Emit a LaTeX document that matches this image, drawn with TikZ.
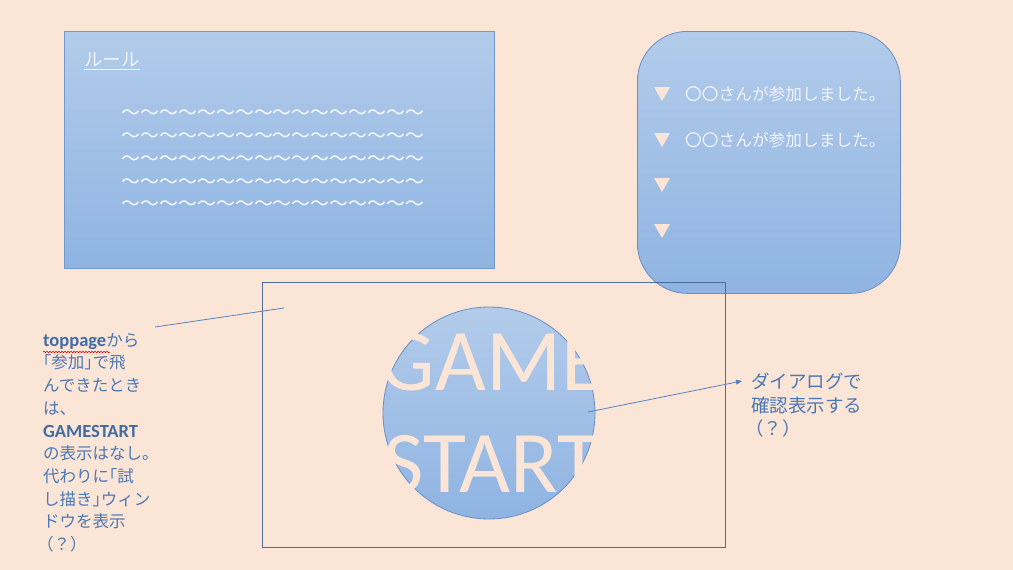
\documentclass[tikz,border=0pt]{standalone}
\usepackage{fontspec}
\newfontfamily\jpfont{Noto Sans CJK JP}
\newfontfamily\jphalt[RawFeature=+halt]{Noto Sans CJK JP}
\newfontfamily\latfont{Carlito}
\usetikzlibrary{decorations.pathmorphing,arrows.meta}
\definecolor{bg}{HTML}{FBE5D6}
\definecolor{gtop}{HTML}{B2CBEA}
\definecolor{gbot}{HTML}{8FB4E2}
\definecolor{edge}{HTML}{7099D0}
\definecolor{edgeb}{HTML}{6A8FC6}
\definecolor{conn}{HTML}{5584C2}
\definecolor{txt}{HTML}{4A78B5}
\definecolor{boldtxt}{HTML}{3F6DA8}
\definecolor{framec}{HTML}{4A6E9E}
\definecolor{paletxt}{HTML}{F3F3F5}
\tikzset{
  panel/.style={draw=edge, line width=0.8pt, top color=gtop, bottom color=gbot, inner sep=0pt, anchor=north west},
  jptext/.style={font=\jpfont\fontsize{16.5}{22.7}\selectfont, text=txt, inner sep=0pt, align=left},
  righttext/.style={font=\jpfont\fontsize{18.5}{23.5}\selectfont, text=txt, inner sep=0pt, align=left},
  listtext/.style={font=\jpfont\fontsize{16.7}{20}\selectfont, text=paletxt, inner sep=0pt, anchor=west},
  wavetext/.style={font=\jpfont\fontsize{18.9}{20}\selectfont, text=white!92!gtop, inner sep=0pt, anchor=west},
  tri/.style={fill=bg, draw=none},
  connector/.style={draw=conn, line width=0.8pt},
}
\newcommand{\bt}[1]{{\latfont\bfseries\fontsize{18.5}{22.7}\selectfont\textcolor{boldtxt}{#1}}}
\newcommand{\hb}[1]{{\jphalt #1}}
\begin{document}
\begin{tikzpicture}[x=1pt,y=-1pt]
\fill[bg] (0,0) rectangle (1013,570);
\useasboundingbox (0,0) rectangle (1013,570);

% rules panel
\node[panel, minimum width=430pt, minimum height=237pt] (rule) at (64,31) {};
\node[font=\jpfont\fontsize{18.5}{20}\selectfont, text=paletxt, inner sep=0pt, anchor=west] (ruletitle) at (84,60) {ルール};
\draw[paletxt, line width=0.7pt] (ruletitle.west |- 0,69) -- (ruletitle.east |- 0,69);
\foreach \yy/\nm in {115/w1,138/w2,161/w3,184/w4,206/w5}{
  \node[wavetext] (\nm) at (121.5,\yy) {〜〜〜〜〜〜〜〜〜〜〜〜〜〜〜〜};
}

% participants panel
\node[panel, draw=edgeb, rounded corners=50pt, minimum width=263pt, minimum height=262pt] (list) at (637,31) {};
\foreach \yy in {87,133,178,224}{
  \fill[tri] (654,\yy) -- (670,\yy) -- (662,\yy+14) -- cycle;
}
\node[listtext] (p1) at (685,94) {〇〇さんが参加しました。};
\node[listtext] (p2) at (685,140) {〇〇さんが参加しました。};

% start window frame
\node[draw=framec, line width=0.8pt, minimum width=463pt, minimum height=265pt, inner sep=0pt, anchor=north west] (frame) at (262,282) {};

% game start button
\node[circle, draw=edgeb, line width=0.8pt, top color=gtop, bottom color=gbot, minimum size=212pt, inner sep=0pt] (gs) at (489,413) {};
\node[font=\latfont\fontsize{88}{102}\selectfont, text=bg, align=center, inner sep=0pt] (gstext) at ([xshift=3pt]gs.center) {GAME\\START};

% left note
\node[jptext, anchor=north west] (note) at (43,333) {\bt{toppage}から\\\hb{「参加」}で飛\\んできたとき\\は、\\\bt{GAMESTART}\\の表示はなし。\\代わりに\hb{「}試\\し描き\hb{」}ウィン\\ドウを表示\\\hspace*{-6pt}（？）};
\draw[red!85!black, line width=0.5pt, decorate, decoration={snake, segment length=3pt, amplitude=0.8pt}] (43,352) -- (110,352);

% right note
\node[righttext, anchor=north west] (dialog) at (751,373) {ダイアログで\\確認表示する\\\hspace*{-6pt}（？）};

% connectors
\coordinate (noteend) at (155,327);
\coordinate (frameend) at (284,308);
\coordinate (gsin) at (588,412);
\coordinate (dialogend) at (742,381);
\draw[connector] (noteend) -- (frameend);
\draw[connector, -{Triangle[length=6pt,width=5pt]}] (gsin) -- (dialogend);
\end{tikzpicture}
\end{document}
